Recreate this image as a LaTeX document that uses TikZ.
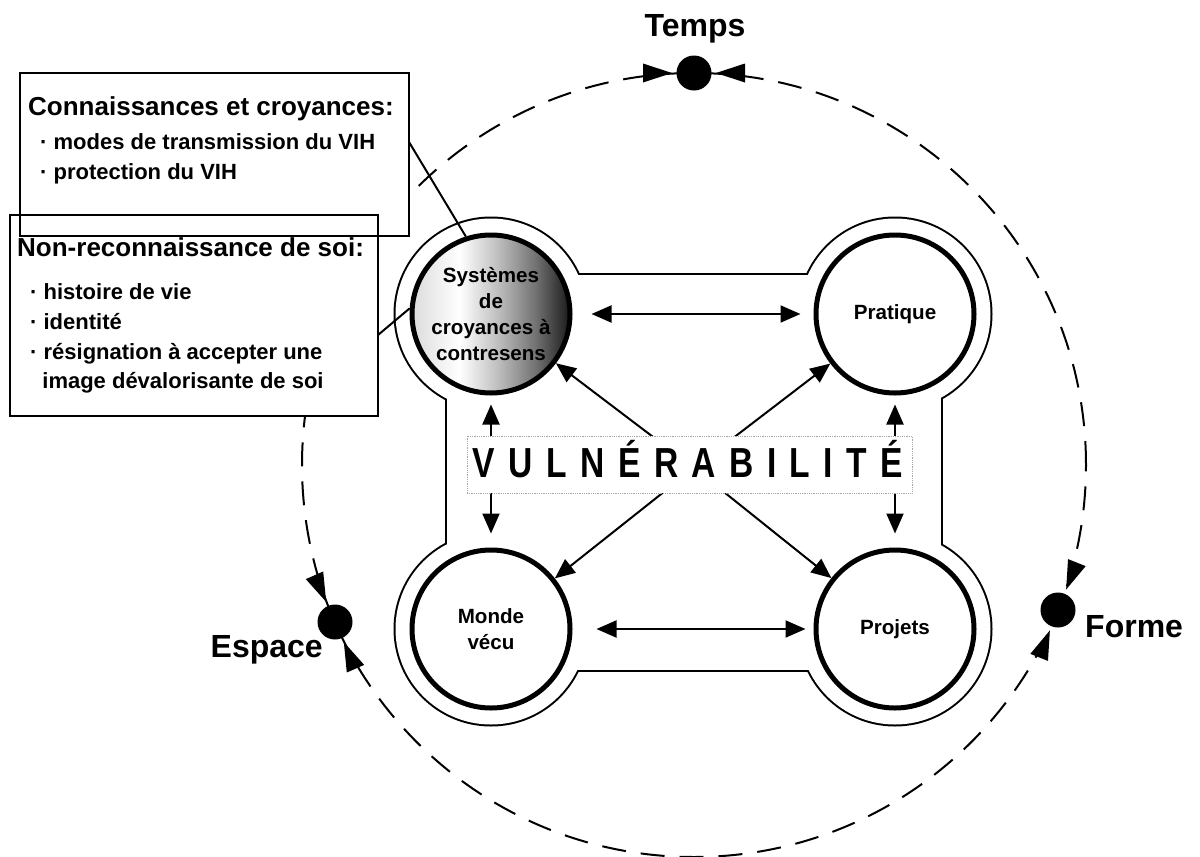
\documentclass[tikz,border=0pt]{standalone}
\usepackage{fontspec}
\setmainfont{Liberation Sans}
\usetikzlibrary{arrows.meta}
% left-to-right grey ramp for the highlighted circle
\pgfdeclarehorizontalshading{sysshade}{100bp}{color(0bp)=(black!14); color(25bp)=(black!14); color(40bp)=(white); color(52bp)=(black!25); color(64bp)=(black!55); color(75bp)=(black!90); color(100bp)=(black!90)}
\begin{document}
\begin{tikzpicture}[x=1pt,y=-1pt,
  lbl/.style={font=\bfseries\fontsize{20.6}{26}\selectfont, align=center},
  bigc/.style={circle, draw, line width=5pt, minimum size=158pt, inner sep=0pt, fill=white, lbl},
  frame/.style={draw, line width=2.2pt, fill=white, inner sep=0pt},
  head/.style={anchor=base west, inner sep=0pt, font=\bfseries\fontsize{26}{26}\selectfont},
  item/.style={anchor=base west, inner sep=0pt, font=\bfseries\fontsize{22}{22}\selectfont},
  axis/.style={inner sep=0pt, font=\bfseries\fontsize{32}{32}\selectfont},
  dot/.style={circle, fill=black, minimum size=35pt, inner sep=0pt},
  arr/.style={line width=2pt, -{Triangle[length=20pt,width=17pt]}},
  dbl/.style={line width=2pt, {Triangle[length=20pt,width=17pt]}-{Triangle[length=20pt,width=17pt]}},
  link/.style={line width=2pt}]
\useasboundingbox (0,0) rectangle (1200,857);

% dashed orbit
\node[circle, draw, line width=2pt, dash pattern=on 24pt off 15pt, minimum size=784pt, inner sep=0pt] (orbit) at (694,465) {};

% text frames (filled first, borders drawn afterwards so both stay visible)
\fill[white] (20,73) rectangle (409,236);
\fill[white] (10,215) rectangle (378,416);
\node[frame, fill=none, minimum width=389pt, minimum height=163pt] (box1) at (214.5,154.5) {};
\node[frame, fill=none, minimum width=368pt, minimum height=201pt] (box2) at (194,315.5) {};

\node[head] (h1) at (28,115) {Connaissances et croyances:};
\node[item] (i11) at (40,149) {· modes de transmission du VIH};
\node[item] (i12) at (40,179) {· protection du VIH};

\node[head] (h2) at (17,256) {Non-reconnaissance de soi:};
\node[item] (i21) at (30,299) {· histoire de vie};
\node[item] (i22) at (30,329) {· identité};
\node[item] (i23) at (30,359) {· résignation à accepter une};
\node[item] (i24) at (42.2,388) {image dévalorisante de soi};

% outer contour around the four circles
\foreach \x/\y in {491/314, 895/314, 491/629, 895/629}
  \draw[line width=4pt] (\x,\y) circle[radius=95.5];
\draw[line width=4pt] (447,275) rectangle (941,670);
\foreach \x/\y in {491/314, 895/314, 491/629, 895/629}
  \fill[white] (\x,\y) circle[radius=95.5];
\fill[white] (447,275) rectangle (941,670);

% the four circles
\node[bigc, shade, shading=sysshade] (sys) at (491,314) {Systèmes\\de\\croyances à\\contresens};
\node[bigc] (pra) at (895,314) {Pratique};
\node[bigc] (mon) at (491,629) {Monde\\vécu};
\node[bigc] (pro) at (895,629) {Projets};

% arrows between circles
\coordinate (O) at (694,468);
\draw[dbl, shorten <=19pt, shorten >=13pt] (sys) -- (pra);
\draw[dbl, shorten <=24pt, shorten >=8pt] (mon) -- (pro);
\draw[dbl, shorten <=9pt, shorten >=14pt] (sys) -- (mon);
\draw[dbl, shorten <=9pt, shorten >=14pt] (pra) -- (pro);
\draw[arr] (O) -- (sys);
\draw[arr] (O) -- (pra);
\draw[arr] (O) -- (mon);
\draw[arr] (O) -- (pro);

% central label
\node[draw=black!35, densely dotted, line width=0.8pt, fill=white, minimum width=445pt, minimum height=57pt, inner sep=0pt] (vulbox) at (689.5,464.5) {};
\node[anchor=base, inner sep=0pt, font=\bfseries\fontsize{42}{42}\selectfont] (vul) at (688,477) {\scalebox{0.8}[1]{\addfontfeature{LetterSpace=40}VULNÉRABILITÉ}};

% links from the frames to the highlighted circle
\coordinate (c1) at (409,142);
\coordinate (c2) at (378,335);
\draw[link] (c1) -- (sys.108);
\draw[link] (c2) -- (sys.176);

% markers on the orbit
\node[dot] (tdot) at (694,73) {};
\node[dot] (edot) at (335,622) {};
\node[dot] (fdot) at (1058,610) {};
\foreach \d/\r in {tdot/0, edot/-66.3, fdot/68.3}{
  \begin{scope}[shift={(\d.center)}, rotate=\r]
    \fill (-51,-9.5) -- (-22,0) -- (-51,9.5) -- cycle;
    \fill (51,-9.5) -- (22,0) -- (51,9.5) -- cycle;
  \end{scope}
}
\node[axis, anchor=base] (temps) at (695,36) {Temps};
\node[axis, anchor=base east] (espace) at (323,657) {Espace};
\node[axis, anchor=base west] (forme) at (1085,637) {Forme};
\end{tikzpicture}
\end{document}
